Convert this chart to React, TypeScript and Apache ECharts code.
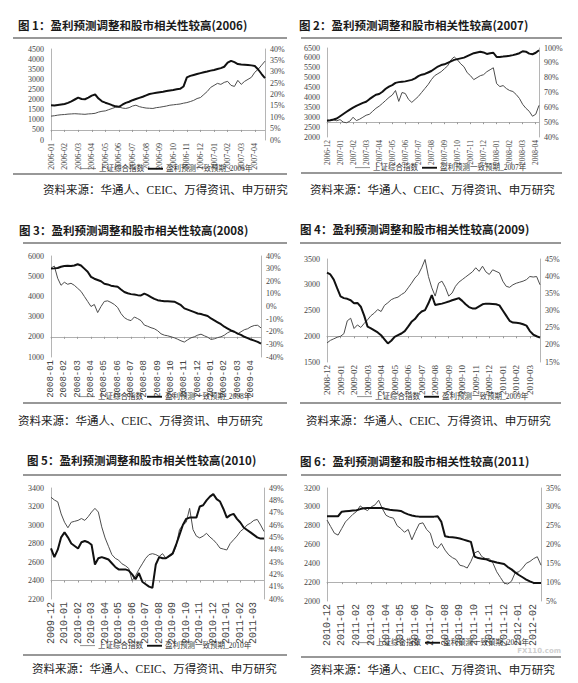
import React, { useEffect, useRef } from "react";
import * as echarts from "echarts";

const INDEX_NAME = "上证综合指数";
const SOURCE = "资料来源：华通人、CEIC、万得资讯、申万研究";
const WATERMARK = "FX110.com";
const TITLES = [
  "图 1：盈利预测调整和股市相关性较高(2006)",
  "图 2：盈利预测调整和股市相关性较高(2007)",
  "图 3：盈利预测调整和股市相关性较高(2008)",
  "图 4：盈利预测调整和股市相关性较高(2009)",
  "图 5：盈利预测调整和股市相关性较高(2010)",
  "图 6：盈利预测调整和股市相关性较高(2011)",
];
const FORECAST_NAMES = [
  "盈利预测一致预期_2006年",
  "盈利预测一致预期_2007年",
  "盈利预测一致预期_2008年",
  "盈利预测一致预期_2009年",
  "盈利预测一致预期_2010年",
  "盈利预测一致预期_2011年",
];

// month tick labels (4 weekly points per month)
const MONTHS_1 = ["2006-01","2006-02","2006-03","2006-04","2006-05","2006-06","2006-07","2006-08","2006-09","2006-10","2006-11","2006-12","2007-01","2007-02","2007-03","2007-04"];
const MONTHS_2 = ["2006-12","2007-01","2007-02","2007-03","2007-04","2007-05","2007-06","2007-07","2007-08","2007-09","2007-10","2007-11","2007-12","2008-01","2008-02","2008-03","2008-04"];
const MONTHS_3 = ["2008-01","2008-02","2008-03","2008-04","2008-05","2008-06","2008-07","2008-08","2008-09","2008-10","2008-11","2008-12","2009-01","2009-02","2009-03","2009-04"];
const MONTHS_4 = ["2008-12","2009-01","2009-02","2009-03","2009-04","2009-05","2009-06","2009-07","2009-08","2009-09","2009-10","2009-11","2009-12","2010-01","2010-02","2010-03"];
const MONTHS_5 = ["2009-12","2010-01","2010-02","2010-03","2010-04","2010-05","2010-06","2010-07","2010-08","2010-09","2010-10","2010-11","2010-12","2011-01","2011-02","2011-03"];
const MONTHS_6 = ["2010-12","2011-01","2011-02","2011-03","2011-04","2011-05","2011-06","2011-07","2011-08","2011-09","2011-10","2011-11","2011-12","2012-01","2012-02"];

// 上证综合指数 (left axis)
const INDEX_1 = [1180,1200,1230,1250, 1260,1280,1290,1300, 1290,1280,1270,1290, 1300,1320,1380,1420, 1440,1500,1560,1620, 1640,1580,1560,1600, 1680,1720,1650,1610, 1580,1570,1560,1600, 1620,1650,1680,1720, 1740,1760,1780,1820, 1850,1900,1960,2050, 2100,2250,2400,2600, 2700,2800,2750,2850, 2900,2700,2650,2950, 2750,2900,3000,3100, 3350,3500,3700,3900];
const INDEX_2 = [2850,2830,2870,2820, 2880,2750,2720,2800, 3000,2830,2900,3000, 3100,3150,3300,3450, 3560,3700,3850,4000, 4120,4350,3800,4250, 4200,3900,3750,3900, 4050,4250,4450,4650, 4900,5100,5200,5300, 5450,5600,5900,6050, 5900,5700,5550,5250, 5100,4900,5000,5100, 5150,5300,5400,5500, 4700,4550,4600,4450, 4350,4300,4150,3950, 3650,3450,3300,3050, 3150,3600];
const INDEX_3 = [5400,5500,4900,4550, 4700,4600,4650,4550, 4400,4250,4000,3750, 3500,3600,3200,3500, 3750,3780,3700,3600, 3450,3150,2950,2850, 2800,2980,2900,2800, 2580,2520,2450,2400, 2300,2150,2080,2050, 2000,1950,1880,1800, 1740,1850,1950,2000, 2080,2130,2050,1980, 1870,1900,1960,2000, 2080,2200,2280,2250, 2150,2250,2350,2400, 2500,2560,2570,2440];
const INDEX_4 = [1870,1920,1950,1980, 2000,2050,2300,2350, 2150,2220,2170,2250, 2320,2400,2450,2520, 2480,2600,2650,2710, 2740,2760,2810,2850, 2940,3030,3130,3200, 3330,3490,3160,2940, 2780,3030,3070,2950, 2780,2840,2970,3050, 3100,3150,3200,3250, 3330,3260,3360,3250, 3200,3290,3260,3230, 3070,2970,2950,3000, 3030,3050,3070,3100, 3160,3150,3160,3000];
const INDEX_5 = [3300,3270,3250,3120, 3030,2970,3030,3040, 3050,3070,3050,3090, 3140,3180,3140,2980, 2860,2770,2680,2640, 2620,2580,2560,2530, 2400,2450,2520,2580, 2640,2680,2690,2680, 2660,2690,2640,2660, 2680,2770,2950,3000, 3030,3180,2950,2880, 2860,2880,2910,2870, 2840,2800,2750,2740, 2730,2800,2840,2880, 2930,2960,3000,3020, 3050,3060,3000,2930];
const INDEX_6 = [2860,2790,2720,2700, 2770,2840,2880,2920, 2950,3010,2980,2960, 3000,3020,3070,2980, 2910,2890,2880,2800, 2770,2730,2760,2650, 2740,2820,2830,2760, 2720,2590,2560,2610, 2540,2490,2460,2440, 2380,2370,2350,2420, 2510,2530,2470,2450, 2450,2400,2310,2250, 2190,2180,2210,2300, 2310,2350,2400,2420, 2450,2470,2380];

// 盈利预测一致预期 (right axis, %)
const FORECAST_1 = [15.3,15.2,15.4,15.6, 15.8,16.3,17.0,17.8, 18.6,18.0,17.9,18.6, 19.5,20.0,18.2,17.0, 16.4,15.9,15.3,14.8, 14.6,15.5,16.3,16.8, 17.5,18.0,18.5,19.0, 19.6,20.2,20.5,20.8, 21.0,21.2,21.5,21.8, 22.0,22.3,22.5,23.5, 27.5,28.2,28.6,29.0, 29.4,29.8,30.1,30.5, 30.8,31.2,31.6,32.2, 34.0,34.8,34.2,33.4, 33.2,33.1,33.0,32.8, 32.5,31.0,29.0,27.2];
const FORECAST_2 = [51.0,51.3,51.8,52.5, 54.0,55.5,57.0,58.5, 59.8,61.0,62.0,63.0, 63.8,65.5,67.0,68.5, 69.0,70.5,72.5,74.0, 75.0,76.5,77.0,77.3, 77.5,78.0,78.5,79.5, 81.0,82.0,82.5,83.5, 84.5,86.0,87.5,88.5, 89.0,90.0,91.0,92.0, 92.5,93.0,93.5,94.5, 95.5,96.5,97.0,97.5, 97.0,96.0,96.5,96.8, 94.0,94.0,94.2,94.5, 94.8,95.2,95.8,96.5, 97.8,97.5,96.2,95.8, 96.8,98.5];
const FORECAST_3 = [30.0,30.2,30.5,31.5, 32.0,32.2,32.0,32.5, 33.5,32.5,30.0,27.5, 23.5,22.0,21.0,20.0, 18.0,17.5,16.5,16.0, 15.6,13.5,11.5,10.5, 9.8,9.5,9.0,8.8, 10.2,9.0,7.5,6.0, 5.0,4.5,4.2,4.2, 4.0,3.8,2.5,1.0, -1.5,-2.5,-3.5,-4.5, -5.5,-6.0,-6.8,-7.5, -9.5,-11.0,-12.5,-14.0, -16.0,-17.5,-19.0,-20.0, -21.5,-22.5,-24.0,-25.0, -26.2,-27.0,-28.0,-29.4];
const FORECAST_4 = [41.0,40.5,39.0,36.5, 34.1,33.6,33.4,33.0, 32.1,32.2,31.1,28.5, 25.3,24.8,24.2,23.6, 22.8,21.6,20.4,21.2, 22.3,22.8,23.3,24.0, 25.3,26.7,27.5,28.8, 29.7,30.1,32.1,34.5, 31.6,31.8,32.0,32.3, 32.6,33.0,33.3,33.6, 32.8,31.8,31.0,30.6, 30.6,31.2,31.8,32.0, 32.0,31.9,31.8,31.5, 30.0,28.5,27.0,26.5, 26.4,26.3,26.0,25.6, 24.0,23.0,22.5,22.1];
const FORECAST_5 = [44.1,43.4,44.0,45.0, 45.4,45.0,44.5,44.3, 44.1,44.6,44.7,44.6, 44.4,42.8,43.3,43.4, 43.3,43.2,42.9,42.6, 42.4,42.4,42.4,42.3, 42.0,41.6,42.1,41.4, 41.2,41.0,40.9,42.8, 43.4,43.3,43.3,43.5, 43.7,44.4,45.2,46.0, 46.5,46.6,46.6,46.6, 47.5,47.6,48.0,48.3, 48.5,48.1,47.9,47.3, 46.6,46.8,46.9,46.5, 46.2,45.8,45.6,45.4, 45.2,45.0,44.9,44.9];
const FORECAST_6 = [27.5,27.5,27.5,27.5, 28.7,28.8,28.9,29.0, 29.1,29.4,29.6,29.7, 29.7,29.7,29.7,29.7, 29.4,29.2,29.1,29.0, 28.9,28.4,28.0,27.7, 27.5,27.4,27.4,27.4, 27.4,27.4,27.5,26.0, 22.2,22.0,21.9,21.8, 21.6,21.3,21.0,20.7, 16.8,16.4,16.2,16.1, 15.7,15.5,15.2,15.0, 14.8,14.0,13.4,12.6, 11.9,11.3,10.7,10.2, 9.8,9.8,9.8];

// axis ranges: [min, max, interval]
const LEFT_RANGES = [[0, 4500, 500], [2000, 6500, 500], [1000, 6000, 1000], [1500, 3500, 500], [2200, 3400, 200], [2000, 3200, 200]];
const RIGHT_RANGES = [[0, 40, 5], [40, 100, 10], [-40, 40, 10], [15, 45, 5], [40, 49, 1], [5, 35, 5]];
const CROSS_VALUES = [500, 2750, 2000, 2000, 2400, 2200];

const MONTHS = [MONTHS_1, MONTHS_2, MONTHS_3, MONTHS_4, MONTHS_5, MONTHS_6];
const INDEXES = [INDEX_1, INDEX_2, INDEX_3, INDEX_4, INDEX_5, INDEX_6];
const FORECASTS = [FORECAST_1, FORECAST_2, FORECAST_3, FORECAST_4, FORECAST_5, FORECAST_6];

// layout per panel
const LAYOUT = [
  { grid: { left: 51, top: 49, width: 214, height: 91 }, titleX: 18, titleY: 25, sepTop: [13, 287, 38], sepBot: [13, 287, 174], srcX: 43, srcY: 190, legend: [76, 160], xFont: "Liberation Serif", xSize: 8 },
  { grid: { left: 327, top: 48, width: 212, height: 89 }, titleX: 299, titleY: 25, sepTop: [301, 562, 38], sepBot: [301, 562, 173], srcX: 310, srcY: 190, legend: [350, 159], xFont: "Liberation Serif", xSize: 7.5 },
  { grid: { left: 51, top: 256, width: 210, height: 101 }, titleX: 19, titleY: 230, sepTop: [23, 287, 243], sepBot: [23, 287, 403], srcX: 18, srcY: 421, legend: [75, 388], xFont: "Liberation Mono", xSize: 9 },
  { grid: { left: 327, top: 259, width: 213, height: 103 }, titleX: 300, titleY: 229, sepTop: [300, 561, 243], sepBot: [300, 561, 403], srcX: 306, srcY: 421, legend: [352, 388], xFont: "Liberation Serif", xSize: 9 },
  { grid: { left: 51, top: 488, width: 213, height: 111 }, titleX: 27, titleY: 460, sepTop: [23, 287, 475], sepBot: [23, 287, 655], srcX: 32, srcY: 669, legend: [75, 637], xFont: "Liberation Mono", xSize: 10 },
  { grid: { left: 327, top: 488, width: 214, height: 113 }, titleX: 300, titleY: 461, sepTop: [301, 561, 475], sepBot: [301, 561, 657], srcX: 310, srcY: 670, legend: [353, 634], xFont: "Liberation Mono", xSize: 10 },
];

const SERIF = '"Liberation Serif", "Noto Sans CJK SC", serif';
const THIN_ICON = "path://M0,0L24,0L24,1L0,1Z";
const THICK_ICON = "path://M0,0L24,0L24,3L0,3Z";

function buildOption() {
  const grid: any[] = [];
  const xAxis: any[] = [];
  const yAxis: any[] = [];
  const series: any[] = [];
  const legend: any[] = [];
  const graphic: any[] = [];

  LAYOUT.forEach((L, k) => {
    const months = MONTHS[k];
    const idx = INDEXES[k];
    const fc = FORECASTS[k];
    const [lMin, lMax, lInt] = LEFT_RANGES[k];
    const [rMin, rMax, rInt] = RIGHT_RANGES[k];
    const cross = CROSS_VALUES[k];
    const n = Math.max(idx.length, fc.length);
    const cats = Array.from({ length: n }, (_, i) => months[Math.floor(i / 4)] + "#" + (i % 4));

    grid.push({ ...L.grid, containLabel: false });
    const yBase = yAxis.length;
    const labelStyle = { fontSize: 8, color: "#444", fontFamily: SERIF };
    yAxis.push({
      gridIndex: k, type: "value", position: "left", min: lMin, max: lMax, interval: lInt,
      axisLine: { show: true, lineStyle: { color: "#b5b5b5", width: 1 } },
      axisTick: { show: false }, splitLine: { show: false },
      axisLabel: { ...labelStyle, margin: 7, formatter: (v: number) => String(v) },
    });
    yAxis.push({
      gridIndex: k, type: "value", position: "right", min: rMin, max: rMax, interval: rInt,
      axisLine: { show: true, lineStyle: { color: "#b5b5b5", width: 1 } },
      axisTick: { show: false }, splitLine: { show: false },
      axisLabel: { ...labelStyle, margin: 5, formatter: (v: number) => String(v) + "%" },
    });
    yAxis.push({
      gridIndex: k, type: "value", show: false, min: lMin - cross, max: lMax - cross,
      splitLine: { show: false },
    });
    xAxis.push({
      gridIndex: k, type: "category", data: cats, boundaryGap: false,
      axisLine: { show: true, onZero: true, onZeroAxisIndex: yBase + 2, lineStyle: { color: "#b0b0b0", width: 1 } },
      axisTick: { show: true, interval: 3, length: 2, lineStyle: { color: "#999" } },
      splitLine: { show: false },
      axisLabel: {
        interval: 3, rotate: 90, fontSize: L.xSize, fontFamily: L.xFont, color: "#444", margin: 3,
        formatter: (v: string) => v.split("#")[0],
      },
    });
    series.push({
      name: INDEX_NAME, type: "line", xAxisIndex: k, yAxisIndex: yBase, data: idx,
      symbol: "none", lineStyle: { color: "#4d4d4d", width: 1 }, itemStyle: { color: "#4d4d4d" }, z: 2,
    });
    series.push({
      name: FORECAST_NAMES[k], type: "line", xAxisIndex: k, yAxisIndex: yBase + 1, data: fc,
      symbol: "none", lineStyle: { color: "#111", width: 2 }, itemStyle: { color: "#111" }, z: 3,
    });
    legend.push({
      left: L.legend[0], top: L.legend[1], orient: "horizontal",
      itemWidth: 15, itemHeight: 6, itemGap: 4, selectedMode: false, symbolKeepAspect: true,
      textStyle: { fontSize: 7.5, color: "#333", fontFamily: SERIF, padding: [0, 0, 0, -2] },
      data: [
        { name: INDEX_NAME, icon: THIN_ICON },
        { name: FORECAST_NAMES[k], icon: THICK_ICON },
      ],
    });

    graphic.push({
      type: "text", x: L.titleX, y: L.titleY,
      style: {
        text: TITLES[k], fill: "#1a1a1a", font: 'bold 11.5px "Noto Sans CJK SC", sans-serif',
        textAlign: "left", textVerticalAlign: "middle",
      },
    });
    graphic.push({
      type: "line", shape: { x1: L.sepTop[0], y1: L.sepTop[2], x2: L.sepTop[1], y2: L.sepTop[2] },
      style: { stroke: "#333", lineWidth: 1.2 },
    });
    graphic.push({
      type: "line", shape: { x1: L.sepBot[0], y1: L.sepBot[2], x2: L.sepBot[1], y2: L.sepBot[2] },
      style: { stroke: "#333", lineWidth: 1.2 },
    });
    graphic.push({
      type: "text", x: L.srcX, y: L.srcY,
      style: {
        text: SOURCE, fill: "#222", font: '11.5px "Liberation Serif", "Noto Sans CJK SC", serif',
        textAlign: "left", textVerticalAlign: "middle",
      },
    });
  });

  // faint site watermark, kept clear of the legend text
  graphic.push({
    type: "text", x: 561, y: 651, z: 100,
    style: {
      text: WATERMARK, fill: "#cfcfcf", font: 'bold 7px "DejaVu Sans", sans-serif',
      textAlign: "right", textVerticalAlign: "middle",
    },
  });

  return {
    animation: false,
    backgroundColor: "#ffffff",
    grid, xAxis, yAxis, series, legend, graphic,
  };
}

export default function App() {
  const ref = useRef<HTMLDivElement>(null);
  useEffect(() => {
    if (!ref.current) return;
    const chart = echarts.init(ref.current, undefined, { renderer: "svg" });
    chart.setOption(buildOption() as any);
    return () => chart.dispose();
  }, []);
  return (
    <div
      ref={ref}
      style={{ position: "absolute", left: 0, top: 0, width: 578, height: 683, background: "#fff" }}
    />
  );
}
